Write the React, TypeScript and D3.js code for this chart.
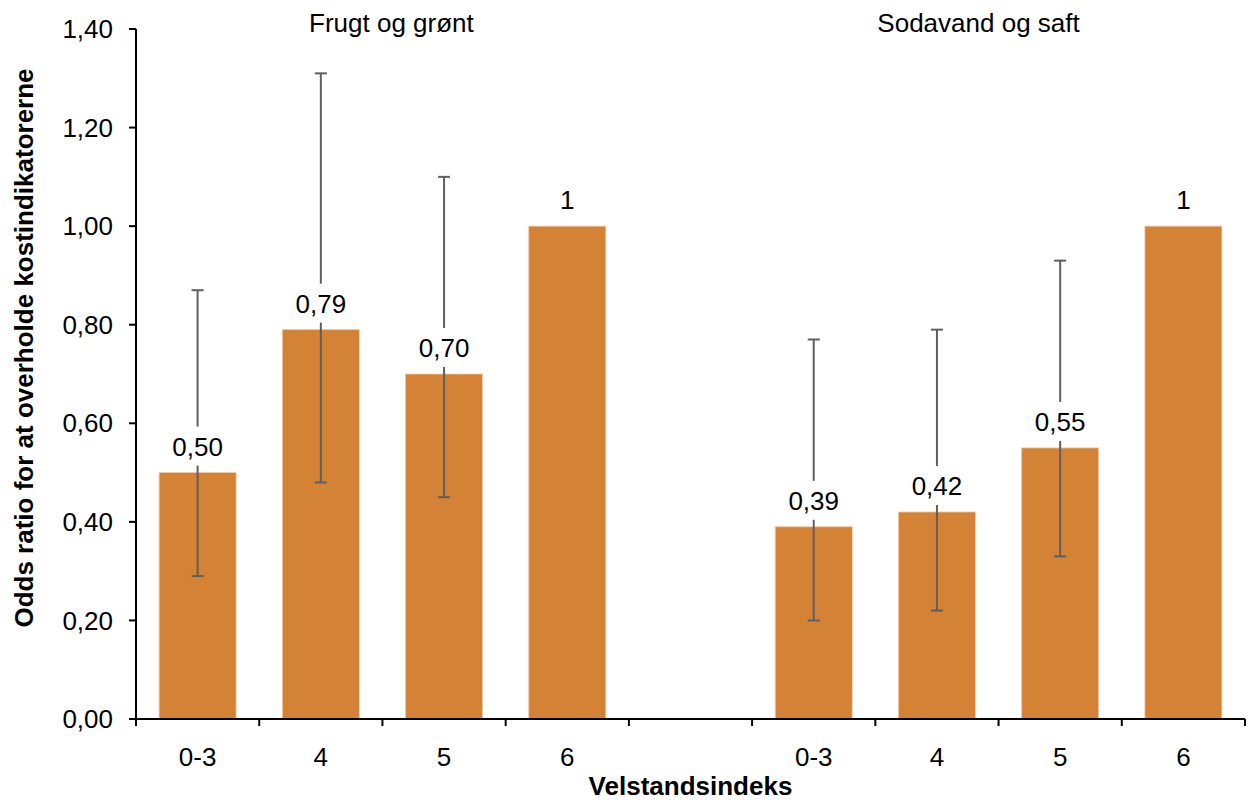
import * as d3 from "d3";

const groups = ["Frugt og grønt", "Sodavand og saft"];
const indexLabels = ["0-3", "4", "5", "6"];

const frugtOR = [0.5, 0.79, 0.7, 1];
const frugtLow = [0.29, 0.48, 0.45, null];
const frugtHigh = [0.87, 1.31, 1.1, null];

const sodaOR = [0.39, 0.42, 0.55, 1];
const sodaLow = [0.2, 0.22, 0.33, null];
const sodaHigh = [0.77, 0.79, 0.93, null];

const yTicks = [0, 0.2, 0.4, 0.6, 0.8, 1.0, 1.2, 1.4];

const BAR = "#D38236";
const ERR = "#5f5f5f";
const FONT = "'Liberation Sans', Arial, sans-serif";

interface Bar {
    key: string,
    label: string,
    value: number,
    low: number | null,
    high: number | null,
}

const fmt = (v: number) => d3.format(".2f")(v).replace(".", ",");

export default function App() {
    const width = 1249;
    const height = 805;
    const margin = { top: 29, right: 4, bottom: 86, left: 136 };

    const series = [
        { OR: frugtOR, low: frugtLow, high: frugtHigh },
        { OR: sodaOR, low: sodaLow, high: sodaHigh },
    ];

    const bars: Bar[] = [];
    series.forEach((s, gi) => {
        indexLabels.forEach((lab, i) => {
            bars.push({ key: `g${gi}-${lab}`, label: lab, value: s.OR[i], low: s.low[i], high: s.high[i] });
        });
    });

    // empty slot between the two groups
    const slots = [...bars.slice(0, 4).map(b => b.key), "gap", ...bars.slice(4).map(b => b.key)];

    const x = d3.scaleBand<string>()
        .domain(slots)
        .range([margin.left, width - margin.right])
        .padding(0);
    const y = d3.scaleLinear()
        .domain([0, 1.4])
        .range([height - margin.bottom, margin.top]);

    const bw = x.bandwidth();
    const barW = bw * 0.625;
    const y0 = y(0);

    const groupCenter = (gi: number) => {
        const ks = bars.slice(gi * 4, gi * 4 + 4).map(b => b.key);
        return (x(ks[0])! + x(ks[3])! + bw) / 2;
    };
    const titleOffset = [9, -20];

    const boundaries = slots.map(s => x(s)!).concat([x(slots[slots.length - 1])! + bw]);

    return (
        <div style={{ position: "absolute", left: 0, top: 0 }}>
            <svg width={width} height={height} style={{ display: "block", fontFamily: FONT }}>
                <rect width={width} height={height} fill="#fff" />

                {/* bars */}
                {bars.map(b => (
                    <rect key={b.key}
                        x={x(b.key)! + (bw - barW) / 2}
                        y={y(b.value)}
                        width={barW}
                        height={y0 - y(b.value)}
                        fill={BAR}
                        stroke="#f0c9a4"
                        strokeWidth={0.8} />
                ))}

                {/* error bars */}
                {bars.filter(b => b.low != null).map(b => {
                    const cx = x(b.key)! + bw / 2;
                    return (
                        <g key={"e" + b.key} stroke={ERR} strokeWidth={2}>
                            <line x1={cx} x2={cx} y1={y(b.low!)} y2={y(b.high!)} />
                            <line x1={cx - 6} x2={cx + 6} y1={y(b.low!)} y2={y(b.low!)} />
                            <line x1={cx - 6} x2={cx + 6} y1={y(b.high!)} y2={y(b.high!)} />
                        </g>
                    );
                })}

                {/* value labels with white boxes */}
                {bars.map(b => {
                    const cx = x(b.key)! + bw / 2;
                    const base = y(b.value) - 17;
                    const txt = b.value === 1 ? "1" : fmt(b.value);
                    const tw = txt.length * 13;
                    return (
                        <g key={"l" + b.key}>
                            <rect x={cx - tw / 2 - 4} y={base - 29} width={tw + 8} height={39} fill="#fff" />
                            <text x={cx} y={base} textAnchor="middle" fontSize={26} fill="#000">{txt}</text>
                        </g>
                    );
                })}

                {/* y axis */}
                <line x1={margin.left} x2={margin.left} y1={margin.top} y2={y0} stroke="#000" strokeWidth={2} />
                {yTicks.map(t => (
                    <g key={"y" + t}>
                        <line x1={margin.left - 7} x2={margin.left} y1={y(t)} y2={y(t)} stroke="#000" strokeWidth={2} />
                        <text x={margin.left - 23} y={y(t)} dy="0.35em" textAnchor="end" fontSize={26} fill="#000">{fmt(t)}</text>
                    </g>
                ))}

                {/* x axis */}
                <line x1={margin.left} x2={width - margin.right} y1={y0} y2={y0} stroke="#000" strokeWidth={2} />
                {boundaries.map((bx, i) => (
                    <line key={"t" + i} x1={bx} x2={bx} y1={y0} y2={y0 + 7} stroke="#000" strokeWidth={2} />
                ))}
                {bars.map(b => (
                    <text key={"xl" + b.key} x={x(b.key)! + bw / 2} y={y0 + 47} textAnchor="middle" fontSize={26} fill="#000">{b.label}</text>
                ))}

                {/* group titles */}
                {groups.map((g, gi) => (
                    <text key={g} x={groupCenter(gi) + titleOffset[gi]} y={32} textAnchor="middle" fontSize={26} fill="#000">{g}</text>
                ))}

                {/* axis titles */}
                <text x={(margin.left + width - margin.right) / 2} y={795} textAnchor="middle" fontSize={26} fontWeight="bold" fill="#000">Velstandsindeks</text>
                <text transform={`translate(33,348) rotate(-90)`} textAnchor="middle" fontSize={26} fontWeight="bold" fill="#000">Odds ratio for at overholde kostindikatorerne</text>
            </svg>
        </div>
    );
}
